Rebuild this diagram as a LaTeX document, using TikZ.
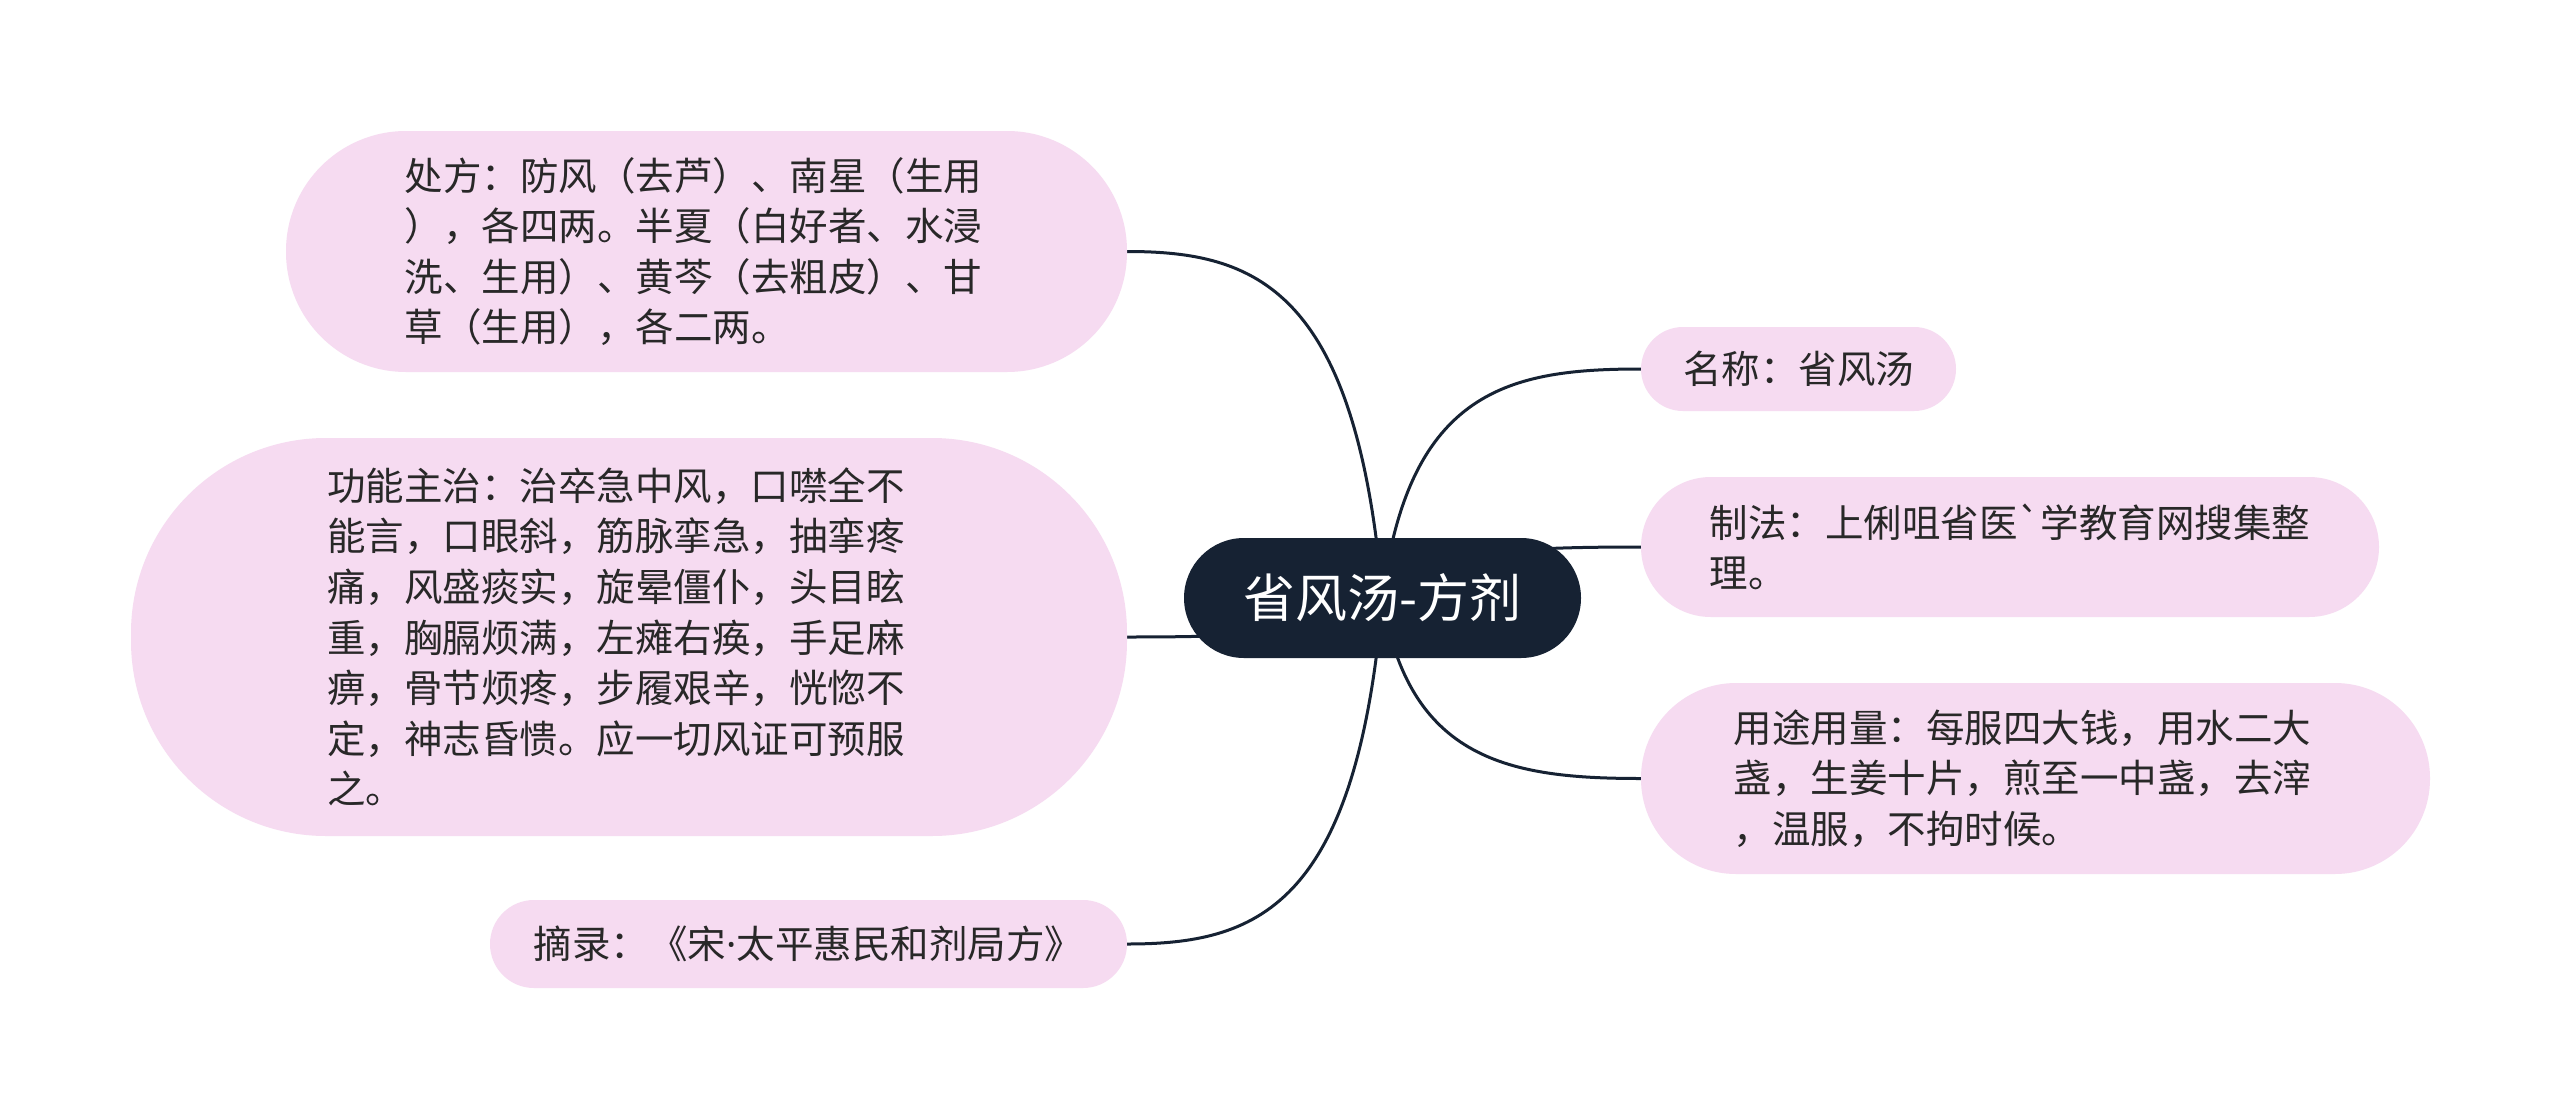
\documentclass[tikz,border=0pt]{standalone}
\usepackage{fontspec}
\newfontfamily\cjk{Noto Sans CJK SC}[Ligatures=TeXOff]
\newfontfamily\lat{Noto Sans}
\usetikzlibrary{backgrounds}
\definecolor{leafpink}{HTML}{F6DBF1}
\definecolor{navy}{HTML}{162233}
\definecolor{txt}{HTML}{282828}
\newcommand{\padr}{\hspace*{26pt}}
\tikzset{
  leaf/.style={fill=leafpink, draw=none, inner sep=0pt, text=txt,
    font=\cjk\fontsize{38.5}{50.6}\selectfont, align=left},
  rootbox/.style={fill=navy, draw=none, inner sep=0pt, text=white,
    font=\cjk\fontsize{52}{60}\selectfont},
  link/.style={draw=navy, line width=3pt}
}
\begin{document}
\begin{tikzpicture}[x=1pt,y=-1pt]
\useasboundingbox (0,0) rectangle (2560,1119);

\node[rootbox, minimum width=397, minimum height=120, rounded corners=60] (c) at (1382.5,598) {省风汤-方剂};

\node[leaf, minimum width=841, minimum height=241, rounded corners=120] (cf) at (706.5,251.5)
 {处方：防风（去芦）、南星（生用\padr\\），各四两。半夏（白好者、水浸\\洗、生用）、黄芩（去粗皮）、甘\\草（生用），各二两。};

\node[leaf, minimum width=996, minimum height=398, rounded corners=195] (gn) at (629,637)
 {功能主治：治卒急中风，口噤全不\padr\\能言，口眼斜，筋脉挛急，抽挛疼\\痛，风盛痰实，旋晕僵仆，头目眩\\重，胸膈烦满，左瘫右痪，手足麻\\痹，骨节烦疼，步履艰辛，恍惚不\\定，神志昏愦。应一切风证可预服\\之。};

\node[leaf, minimum width=637, minimum height=88, rounded corners=44] (zl) at (808.5,944)
 {摘录：《宋{\lat ·}太平惠民和剂局方》};

\node[leaf, minimum width=315, minimum height=84, rounded corners=42] (mc) at (1798.5,369)
 {名称：省风汤};

\node[leaf, minimum width=738, minimum height=140, rounded corners=70] (zf) at (2010,547)
 {制法：上俐咀省医`学教育网搜集整\\理。};

\node[leaf, minimum width=789, minimum height=191, rounded corners=95] (yt) at (2035.5,778.5)
 {用途用量：每服四大钱，用水二大\padr\\盏，生姜十片，煎至一中盏，去滓\\，温服，不拘时候。};

\begin{pgfonlayer}{background}
\fill[white] (0,0) rectangle (2560,1119);
\draw[link] (c.center) .. controls +(-26,-310) and +(128,0) .. (cf.east);
\draw[link] (c.center) .. controls +(-26,35) and +(128,0) .. (gn.east);
\draw[link] (c.center) .. controls +(-26,311) and +(128,0) .. (zl.east);
\draw[link] (c.center) .. controls +(26,-209) and +(-130,0) .. (mc.west);
\draw[link] (c.center) .. controls +(26,-46) and +(-130,0) .. (zf.west);
\draw[link] (c.center) .. controls +(26,163) and +(-130,0) .. (yt.west);
\end{pgfonlayer}
\end{tikzpicture}
\end{document}
